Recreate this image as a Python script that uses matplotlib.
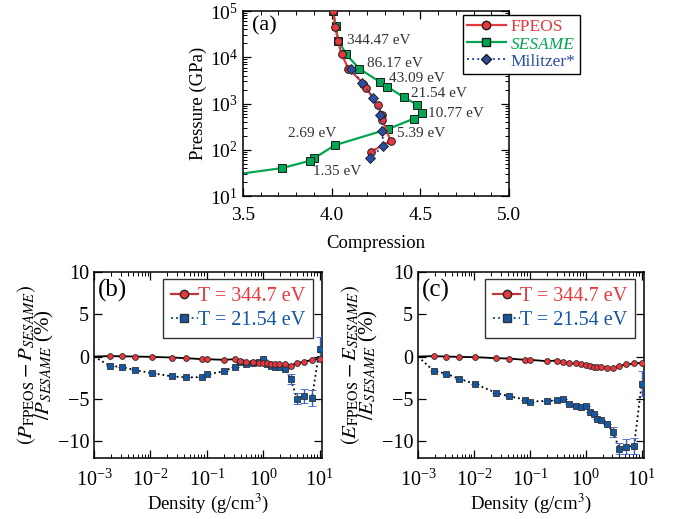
import matplotlib
matplotlib.use("Agg")
import matplotlib.pyplot as plt
from matplotlib.lines import Line2D
from matplotlib.ticker import LogLocator, MultipleLocator, NullFormatter
import numpy as np

plt.rcParams["font.family"] = ["Liberation Serif", "DejaVu Serif"]
plt.rcParams["mathtext.fontset"] = "stix"

C_RED = "#e8383d"
C_GREEN = "#00a651"
C_BLUE = "#2a4d9f"
C_SQ = "#1457a3"
C_ERR = "#3a5fc8"
C_TXT = "#333333"

# (a) Hugoniot: compression vs pressure (GPa)
fp_comp = [4.008, 4.020, 4.035, 4.056, 4.094, 4.179, 4.194, 4.261, 4.282, 4.286, 4.333, 4.222]
fp_pres = [1.0e5, 4.6e4, 2.3e4, 1.16e4, 5.7e3, 2.7e3, 2.2e3, 9.1e2, 5.7e2, 4.3e2, 1.55e2, 91]

ses_comp = [4.009, 4.023, 4.038, 4.081, 4.154, 4.274, 4.314, 4.408, 4.480, 4.510,
            4.463, 4.318, 4.017, 3.900, 3.880, 3.718, 3.45]
ses_pres = [1.0e5, 4.75e4, 2.3e4, 1.17e4, 5.7e3, 2.9e3, 2.3e3, 1.36e3, 9.5e2, 6.3e2,
            4.7e2, 2.8e2, 1.25e2, 65, 58, 40, 29]

mil_comp = [4.107, 4.173, 4.235, 4.273, 4.286, 4.291, 4.218]
mil_pres = [5.6e3, 2.8e3, 1.29e3, 5.6e2, 2.5e2, 1.22e2, 66]

temp_labels = ["344.47 eV", "86.17 eV", "43.09 eV", "21.54 eV", "10.77 eV",
               "5.39 eV", "2.69 eV", "1.35 eV"]
label_comp = [4.087, 4.198, 4.325, 4.446, 4.545, 4.367, 3.755, 3.897]
label_pres = [2.36e4, 7.4e3, 3.4e3, 1.66e3, 6.2e2, 2.3e2, 2.2e2, 33.5]

# (b), (c) relative differences along isotherms, density in g/cm^3
rho = [0.001, 0.0019, 0.0032, 0.0054, 0.0105, 0.0245, 0.043, 0.083, 0.1, 0.2, 0.31,
       0.39, 0.5, 0.66, 0.83, 1.0, 1.18, 1.4, 1.6, 1.9, 2.4, 3.05, 4.0, 5.3, 7.3, 10.0]

dP_hot = [0.0, 0.05, 0.03, 0.0, -0.04, -0.12, -0.19, -0.31, -0.31, -0.39, -0.31,
          -0.54, -0.70, -0.67, -0.78, -0.78, -0.82, -0.86, -0.90, -0.90, -0.94,
          -1.06, -0.78, -0.62, -0.39, -0.27]
dP_warm = [0.0, -1.09, -1.25, -1.60, -1.96, -2.35, -2.47, -2.43, -2.11, -1.76, -1.18,
           -0.62, -0.90, -0.82, -0.60, -0.27, -0.94, -1.10, -1.29, -1.29, -1.49,
           -2.66, -4.98, -4.62, -4.90, 0.94]
dP_err = [0, 0, 0, 0, 0, 0, 0, 0, 0, 0, 0, 0, 0, 0, 0, 0, 0, 0, 0, 0, 0,
          0.59, 0.63, 0.84, 0.90, 1.37]

dE_hot = [0.0, 0.05, 0.0, -0.04, -0.07, -0.19, -0.24, -0.39, -0.39, -0.54, -0.47,
          -0.70, -0.82, -0.82, -0.90, -0.98, -1.13, -1.18, -1.18, -1.25, -1.30,
          -1.37, -1.13, -0.94, -0.82, -0.74]
dE_warm = [0.0, -1.68, -2.04, -2.62, -3.25, -4.27, -4.71, -5.09, -5.33, -5.25, -5.18,
           -5.01, -5.56, -5.88, -5.92, -5.80, -6.59, -6.74, -7.33, -7.53, -7.92,
           -8.94, -10.90, -10.66, -10.59, -3.21]
dE_err = [0, 0, 0, 0, 0, 0, 0, 0, 0, 0, 0, 0, 0, 0, 0, 0, 0, 0, 0, 0, 0,
          0.61, 0.65, 0.88, 0.98, 1.50]


def style_ticks(ax, size, xpad):
    ax.tick_params(which="both", direction="in", top=True, right=True,
                   labelsize=size, colors="black")
    ax.tick_params(which="major", length=6, width=0.9)
    ax.tick_params(which="minor", length=3, width=0.7)
    ax.tick_params(axis="x", which="major", pad=xpad)
    for s in ax.spines.values():
        s.set_linewidth(1.1)


fig = plt.figure(figsize=(6.73, 5.19), dpi=100)

# ---- (a) ----
ax = fig.add_axes([243 / 673, 1 - 196 / 519, 266 / 673, 185 / 519])
ax.plot(ses_comp, ses_pres, "-s", color=C_GREEN, lw=1.6, ms=5.5,
        mfc=C_GREEN, mec="#1a1a1a", mew=0.7, zorder=2)
ax.plot(fp_comp, fp_pres, "-o", color=C_RED, lw=1.6, ms=5.5,
        mfc=C_RED, mec="#1a1a1a", mew=0.7, zorder=3)
ax.plot(mil_comp, mil_pres, ":D", color=C_BLUE, lw=1.4, ms=5,
        mfc=C_BLUE, mec="#1a1a1a", mew=0.6, zorder=4)
for t, c, p in zip(temp_labels, label_comp, label_pres):
    ax.text(c, p, t, fontsize=11, color=C_TXT, va="center", ha="left", zorder=5)
ax.set_yscale("log")
ax.set_xlim(3.5, 5.0)
ax.set_ylim(10, 1e5)
ax.set_xticks([3.5, 4.0, 4.5, 5.0])
ax.set_xticklabels(["3.5", "4.0", "4.5", "5.0"])
ax.xaxis.set_minor_locator(MultipleLocator(0.1))
ax.yaxis.set_major_locator(LogLocator(base=10, numticks=10))
ax.yaxis.set_minor_locator(LogLocator(base=10, subs=np.arange(2, 10), numticks=20))
ax.yaxis.set_minor_formatter(NullFormatter())
style_ticks(ax, 14, 8)
ax.set_xlabel("Compression", fontsize=13.5, labelpad=8)
ax.set_ylabel("Pressure (GPa)", fontsize=13.5, labelpad=2)
ax.text(0.035, 0.92, "(a)", transform=ax.transAxes, fontsize=16, va="center")

handles_a = [
    Line2D([0], [0], color=C_RED, lw=1.6, marker="o", ms=6, mfc=C_RED, mec="#1a1a1a"),
    Line2D([0], [0], color=C_GREEN, lw=1.6, marker="s", ms=6, mfc=C_GREEN, mec="#1a1a1a"),
    Line2D([0], [0], color=C_BLUE, lw=1.4, ls=":", marker="D", ms=5.5, mfc=C_BLUE, mec="#1a1a1a"),
]
leg = fig.legend(handles_a, ["FPEOS", "SESAME", "Militzer*"], loc="upper left",
                 bbox_to_anchor=(463 / 673, 1 - 15 / 519), fontsize=12.5,
                 frameon=True, fancybox=False, edgecolor="black", framealpha=1,
                 handlelength=2.2, handletextpad=0.3, borderpad=0.25,
                 labelspacing=0.05, borderaxespad=0)
leg.get_frame().set_linewidth(1.0)
for txt, col in zip(leg.get_texts(), [C_RED, C_GREEN, C_BLUE]):
    txt.set_color(col)
leg.get_texts()[1].set_style("italic")


# ---- (b) and (c) ----
def diff_panel(rect, hot, warm, err, ylabel, tag):
    ax = fig.add_axes(rect)
    ax.plot(rho, hot, "-", color="black", lw=1.3, zorder=3)
    ax.plot(rho[1:], hot[1:], "o", ms=4.2, mfc=C_RED, mec="#2a2a2a",
            mew=0.6, zorder=4)
    ax.plot(rho, warm, ":", color="black", lw=1.3, zorder=2)
    ax.errorbar(rho[1:], warm[1:], yerr=err[1:], fmt="s", ms=5, mfc=C_SQ,
                mec="#333333", mew=0.6, ecolor=C_ERR, elinewidth=1.0,
                capsize=3, capthick=1.0, zorder=3)
    ax.set_xscale("log")
    ax.set_xlim(1e-3, 11)
    ax.set_ylim(-12, 10)
    ax.set_yticks([-10, -5, 0, 5, 10])
    ax.xaxis.set_major_locator(LogLocator(base=10, numticks=10))
    ax.xaxis.set_minor_locator(LogLocator(base=10, subs=np.arange(2, 10), numticks=20))
    ax.xaxis.set_minor_formatter(NullFormatter())
    style_ticks(ax, 14.5, 8)
    ax.set_xlabel("Density (g/cm$^{3}$)", fontsize=13.5, labelpad=1)
    ax.set_ylabel(ylabel, fontsize=15, labelpad=1, linespacing=0.7)
    ax.text(0.015, 0.9, tag, transform=ax.transAxes, fontsize=18, va="center")
    handles = [
        Line2D([0], [0], color="#c0393b", lw=1.6, marker="o", ms=6,
               mfc=C_RED, mec="#2a2a2a"),
        Line2D([0], [0], color=C_SQ, lw=1.4, ls=":", marker="s", ms=5.5,
               mfc=C_SQ, mec="#333333"),
    ]
    lg = ax.legend(handles, ["T = 344.7 eV", "T = 21.54 eV"], loc="upper right",
                   bbox_to_anchor=(0.96, 0.965), fontsize=14.5, frameon=True,
                   fancybox=False, edgecolor="#333333", framealpha=1,
                   handlelength=1.3, handletextpad=0.0, borderpad=0.4,
                   labelspacing=0.25, borderaxespad=0)
    lg.get_frame().set_linewidth(1.0)
    lg.get_texts()[0].set_color(C_RED)
    lg.get_texts()[1].set_color(C_SQ)
    return ax


diff_panel([94 / 673, 1 - 458 / 519, 228 / 673, 186 / 519], dP_hot, dP_warm, dP_err,
           "$(P_{\\rm FPEOS} - P_{SESAME})$\n$/P_{SESAME}$ (%)", "(b)")
diff_panel([418 / 673, 1 - 458 / 519, 226 / 673, 186 / 519], dE_hot, dE_warm, dE_err,
           "$(E_{\\rm FPEOS} - E_{SESAME})$\n$/E_{SESAME}$ (%)", "(c)")

fig.savefig("out.png", dpi=100)
